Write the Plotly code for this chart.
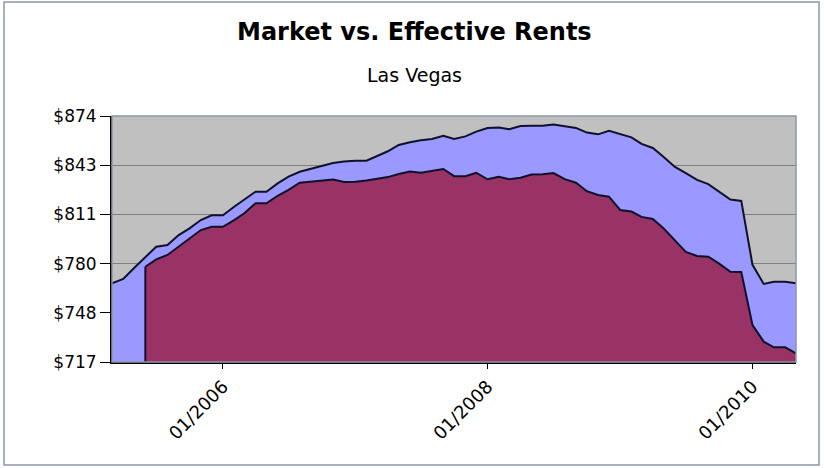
import pandas as pd
import plotly.graph_objects as go

# ---- data ----
dates = pd.date_range("2005-03-01", "2010-05-01", freq="MS")

market_rent = [
    767.2, 770.0, 777.0, 784.0, 790.6, 791.7, 798.0, 802.3, 807.6, 810.6,
    810.6, 816.1, 820.4, 825.7, 825.7, 831.0, 835.3, 838.4, 840.3, 842.2,
    844.0, 845.0, 845.5, 845.5, 848.5, 851.5, 855.5, 857.3, 858.5, 859.3,
    861.3, 859.3, 861.0, 864.0, 866.3, 866.7, 865.5, 867.6, 867.7, 867.8,
    868.6, 867.7, 866.4, 863.4, 862.3, 864.5, 862.3, 860.4, 856.2, 853.6,
    847.9, 841.5, 837.6, 833.2, 830.5, 825.5, 820.7, 819.8, 779.0, 766.8,
    768.2, 768.2, 767.2,
]

# effective rents begin in June 2005
effective_start = 3
effective_rent = [
    777.8, 782.5, 785.3, 790.6, 795.9, 801.2, 803.3,
    803.3, 807.6, 811.9, 818.3, 818.3, 823.1, 826.8, 831.4, 832.1, 832.8,
    833.4, 831.9, 832.1, 832.8, 833.9, 835.0, 837.0, 838.6, 837.8, 838.9,
    840.2, 835.6, 835.5, 837.8, 833.6, 835.2, 833.6, 834.6, 836.7, 836.8,
    837.6, 833.7, 831.4, 826.0, 823.6, 822.5, 814.0, 813.0, 809.6, 808.3,
    802.2, 794.6, 787.3, 784.7, 784.2, 779.8, 774.6, 774.5, 740.5, 730.0,
    726.4, 726.4, 722.5,
]

y_min, y_max = 717, 874
y_tick_count = 6
x_tick_dates = ["2006-01-01", "2008-01-01", "2010-01-01"]
x_tick_labels = ["01/2006", "01/2008", "01/2010"]

title_text = "Market vs. Effective Rents"
subtitle_text = "Las Vegas"

# ---- figure ----
eff_dates = dates[effective_start:]
step = (y_max - y_min) / (y_tick_count - 1)
y_tick_vals = [y_min + i * step for i in range(y_tick_count)]
y_tick_text = ["$%d" % round(v) for v in y_tick_vals]

FONT = "Tahoma, DejaVu Sans, Verdana, sans-serif"
LINE = "#10102a"

fig = go.Figure()
fig.add_trace(go.Scatter(
    x=dates, y=market_rent, mode="lines", fill="tozeroy",
    fillcolor="#9999FF", line=dict(color=LINE, width=2),
    name="Market Rent", hoverinfo="x+y",
))
fig.add_trace(go.Scatter(
    x=eff_dates, y=effective_rent, mode="lines", fill="tozeroy",
    fillcolor="#993366", line=dict(color=LINE, width=2),
    name="Effective Rent", hoverinfo="x+y",
))
# vertical edge where the effective series begins
fig.add_trace(go.Scatter(
    x=[eff_dates[0], eff_dates[0]], y=[y_min, effective_rent[0]],
    mode="lines", line=dict(color=LINE, width=2),
    showlegend=False, hoverinfo="skip",
))

W, H = 824, 468
L, R, T, B = 112, 28, 116, 106
pw, ph = W - L - R, H - T - B
def px_to_paper_x(px): return (px - L) / pw
def px_to_paper_y(py): return (H - B - py) / ph

# plot-area frame
fig.add_shape(type="rect", xref="paper", yref="paper", x0=0, x1=1, y0=0, y1=1,
              line=dict(color="#8a96a8", width=1.5), layer="above")
# outer chart border
fig.add_shape(type="rect", xref="paper", yref="paper",
              x0=px_to_paper_x(4), x1=px_to_paper_x(819),
              y0=px_to_paper_y(465), y1=px_to_paper_y(2),
              line=dict(color="#8a96a8", width=1.5), layer="above")

fig.add_annotation(text="<b>%s</b>" % title_text, xref="paper", yref="paper",
                   x=px_to_paper_x(414), y=px_to_paper_y(32), showarrow=False,
                   xanchor="center", yanchor="middle",
                   font=dict(family=FONT, size=24, color="#000000"))
fig.add_annotation(text=subtitle_text, xref="paper", yref="paper",
                   x=px_to_paper_x(414), y=px_to_paper_y(75), showarrow=False,
                   xanchor="center", yanchor="middle",
                   font=dict(family=FONT, size=19, color="#000000"))

fig.update_layout(
    width=W, height=H,
    margin=dict(l=L, r=R, t=T, b=B),
    paper_bgcolor="#ffffff", plot_bgcolor="#C0C0C0",
    showlegend=False,
    font=dict(family=FONT, size=16, color="#000000"),
)
fig.update_xaxes(
    range=[dates[0], dates[-1]],
    tickvals=x_tick_dates, ticktext=x_tick_labels, tickangle=-45,
    ticks="outside", ticklen=5, tickcolor="#000000",
    showgrid=False, showline=True, linecolor="#000000", linewidth=2,
    zeroline=False, tickfont=dict(size=18),
)
fig.update_yaxes(
    range=[y_min, y_max],
    tickvals=y_tick_vals, ticktext=y_tick_text,
    ticks="outside", ticklen=10, tickcolor="#000000",
    showgrid=True, gridcolor="#808080", gridwidth=1,
    showline=True, linecolor="#000000", linewidth=2,
    zeroline=False, tickfont=dict(size=17),
)

fig.write_html("out.html", config={"displayModeBar": False},
               post_script="document.body.style.margin='0';document.body.style.overflow='hidden';")
